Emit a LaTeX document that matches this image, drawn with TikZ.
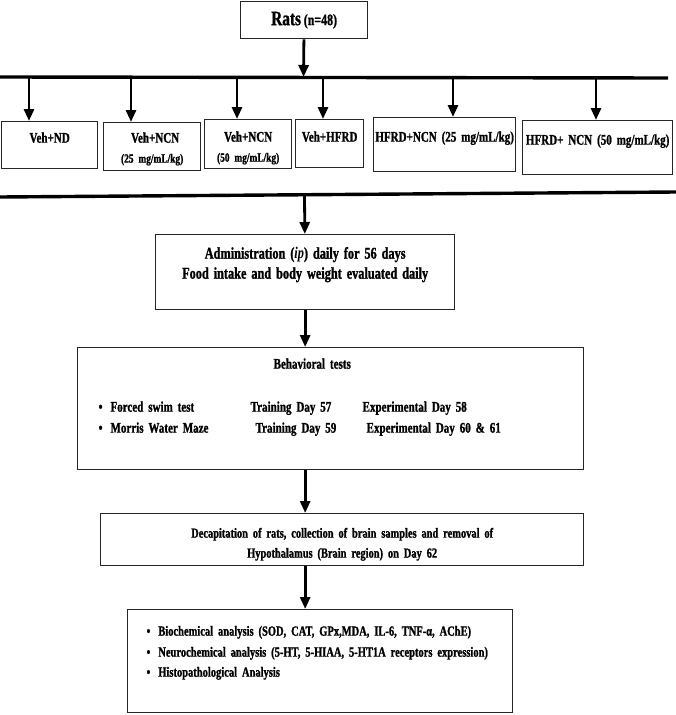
\documentclass[tikz,border=0pt]{standalone}
\usepackage{fontspec}
\setmainfont{Liberation Serif}[FakeStretch=0.75, BoldFeatures={FakeBold=1.2}]
\usetikzlibrary{positioning,arrows.meta}

\begin{document}
\begin{tikzpicture}[x=1pt, y=-1pt, >={Triangle[length=12pt,width=10pt]},
  font=\bfseries\fontsize{14.7}{20}\selectfont,
  box/.style={draw=black!85, line width=1.3pt, inner sep=0pt, anchor=north west, align=center},
  bar/.style={line width=3.4pt},
  arr/.style={->, line width=2.8pt}]
  \useasboundingbox (0,0) rectangle (676,715);

  % top box and the split into groups
  \node (rats) [box, minimum width=127pt, minimum height=37pt] at (240,1)
    {{\fontsize{20.4}{20}\selectfont Rats} {\fontsize{15.9}{20}\selectfont(n=48)}};
  \draw[bar] (0,77) coordinate (bar1w) -- (668,78) coordinate (bar1e);
  \coordinate (hub1) at (303.5,77);
  \draw[arr] (rats) -- (hub1);

  \node (g1) [box, text width=96pt, text height=21pt, text depth=26pt] at (1,121) {Veh+ND};
  \node (g2) [box, text width=97pt, text height=20pt, text depth=28pt] at (103,122)
    {\hspace*{6pt}Veh+NCN\\{\fontsize{12.5}{20}\selectfont(25 mg/mL/kg)}};
  \node (g3) [box, text width=87pt, text height=22pt, text depth=27pt] at (204,119)
    {Veh+NCN\\{\fontsize{12.5}{20}\selectfont(50 mg/mL/kg)}};
  \node (g4) [box, text width=68pt, text height=22pt, text depth=26pt] at (295,119) {Veh+HFRD};
  \node (g5) [box, text width=142pt, text height=24pt, text depth=30pt] at (373,117)
    {HFRD+NCN (25 mg/mL/kg)};
  \node (g6) [box, text width=150pt, text height=24pt, text depth=30pt] at (522,120)
    {HFRD+ NCN (50 mg/mL/kg)};

  \foreach \bx/\g in {29/g1,131/g2,237/g3,323/g4,453/g5,596/g6}{
    \coordinate (b-\g) at (\bx,77);
    \draw[arr] (b-\g) -- (b-\g |- \g.north);
  }

  % treatment and tests
  \draw[bar] (0,197) coordinate (bar2w) -- (676,192) coordinate (bar2e);
  \coordinate (hub2) at (304.5,195);

  \node (admin) [box, text width=299pt, text height=24pt, text depth=51pt] at (155,234)
    {\fontsize{16.4}{24}\selectfont Administration (\textit{ip}) daily for 56 days\\
     Food intake and body weight evaluated daily};
  \draw[arr] (hub2) -- (admin);

  \node (behav) [box, align=left, inner xsep=21pt, text width=464pt, text height=21pt,
                 text depth=101pt] at (77,347)
    {\fontsize{14.7}{21}\selectfont
     \begin{tabular}[t]{@{}p{152pt}@{}p{112pt}@{}l@{}}
       \multicolumn{3}{@{}l@{}}{\hspace*{175pt}Behavioral tests}\\[22pt]
       \textbullet\hspace{8pt}Forced swim test & Training Day 57 & Experimental Day 58\\
       \textbullet\hspace{8pt}Morris Water Maze & \hspace*{5pt}Training Day 59 &
         \hspace*{4pt}Experimental Day 60 \& 61
     \end{tabular}};
  \draw[arr] (admin.south) -- (admin.south |- behav.north);

  % sampling and analyses
  \node (decap) [box, text width=483pt, text height=24pt, text depth=28pt] at (100,513)
    {\fontsize{13.9}{18}\selectfont Decapitation of rats, collection of brain samples and removal of\hspace*{22pt}\\
     Hypothalamus (Brain region) on Day 62\hspace*{22pt}};
  \draw[arr] (behav.south -| admin.south) -- (admin.south |- decap.north);

  \node (anal) [box, align=left, inner xsep=19pt, text width=347pt, text height=26pt,
                text depth=77pt] at (127,609)
    {\fontsize{14}{21}\selectfont
     \mbox{\textbullet\hspace{8pt}Biochemical analysis (SOD, CAT, GPx,MDA, IL-6, TNF-α, AChE)}\\
     \mbox{\textbullet\hspace{8pt}Neurochemical analysis (5-HT, 5-HIAA, 5-HT1A receptors expression)}\\
     \mbox{\textbullet\hspace{8pt}Histopathological Analysis}};
  \draw[arr] (decap.south -| admin.south) -- (admin.south |- anal.north);
\end{tikzpicture}
\end{document}
